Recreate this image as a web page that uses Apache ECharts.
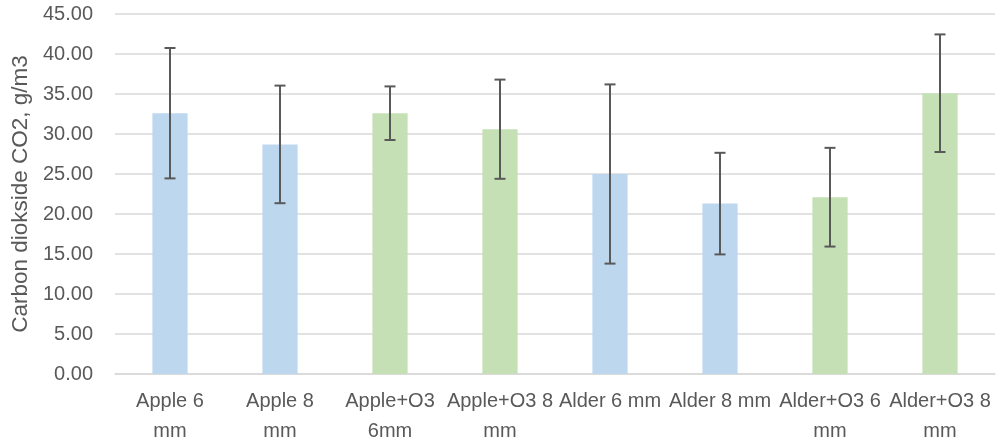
<!DOCTYPE html>
<html>
<head>
<meta charset="utf-8">
<script src="https://cdn.jsdelivr.net/npm/echarts@6/dist/echarts.min.js"></script>
<style>html,body{margin:0;padding:0;background:#fff;}#c{width:999px;height:442px;}</style>
</head>
<body>
<div id="c"></div>
<script>
var categories = ["Apple 6\nmm", "Apple 8\nmm", "Apple+O3\n6mm", "Apple+O3 8\nmm", "Alder 6 mm", "Alder 8 mm", "Alder+O3 6\nmm", "Alder+O3 8\nmm"];
var means = [32.6, 28.7, 32.6, 30.6, 25.0, 21.3, 22.1, 35.1];
var errors = [8.15, 7.35, 3.35, 6.2, 11.2, 6.35, 6.17, 7.35];
var groups = ["plain", "plain", "ozone", "ozone", "plain", "plain", "ozone", "ozone"];
var groupColors = { plain: "#BDD7EE", ozone: "#C5E0B4" };
var yTicks = { min: 0, max: 45, interval: 5 };

var font = "'Liberation Sans', Arial, sans-serif";
var chart = echarts.init(document.getElementById('c'));
var barData = means.map(function (v, i) {
  return { value: v, itemStyle: { color: groupColors[groups[i]] } };
});
var errData = means.map(function (v, i) { return [i, v - errors[i], v + errors[i]]; });

chart.setOption({
  animation: false,
  grid: { left: 115, right: 4, top: 14, bottom: 68, outerBoundsMode: 'none', containLabel: false },
  xAxis: {
    type: 'category',
    data: categories,
    axisLine: { show: true, lineStyle: { color: '#d9d9d9', width: 1.5 } },
    axisTick: { show: false },
    axisLabel: { color: '#595959', fontSize: 20, fontFamily: font, lineHeight: 30, margin: 12, interval: 0 }
  },
  yAxis: {
    type: 'value',
    min: yTicks.min, max: yTicks.max, interval: yTicks.interval,
    name: 'Carbon diokside CO2, g/m3',
    nameLocation: 'middle',
    nameGap: 81,
    nameTextStyle: { color: '#595959', fontSize: 22.5, fontFamily: font },
    axisLine: { show: false },
    axisTick: { show: false },
    splitLine: { lineStyle: { color: '#d9d9d9', width: 1.5 } },
    axisLabel: { color: '#595959', fontSize: 20, fontFamily: font, margin: 22,
      formatter: function (v) { return v.toFixed(2); } }
  },
  series: [
    { type: 'bar', data: barData, barWidth: '32%' },
    {
      type: 'custom',
      data: errData,
      z: 10,
      renderItem: function (params, api) {
        var x = api.value(0);
        var lo = api.coord([x, api.value(1)]);
        var hi = api.coord([x, api.value(2)]);
        var hw = 5.5;
        var st = { stroke: '#595959', lineWidth: 2 };
        return {
          type: 'group',
          children: [
            { type: 'line', shape: { x1: hi[0], y1: hi[1], x2: lo[0], y2: lo[1] }, style: st },
            { type: 'line', shape: { x1: hi[0] - hw, y1: hi[1], x2: hi[0] + hw, y2: hi[1] }, style: st },
            { type: 'line', shape: { x1: lo[0] - hw, y1: lo[1], x2: lo[0] + hw, y2: lo[1] }, style: st }
          ]
        };
      }
    }
  ]
});
</script>
</body>
</html>
